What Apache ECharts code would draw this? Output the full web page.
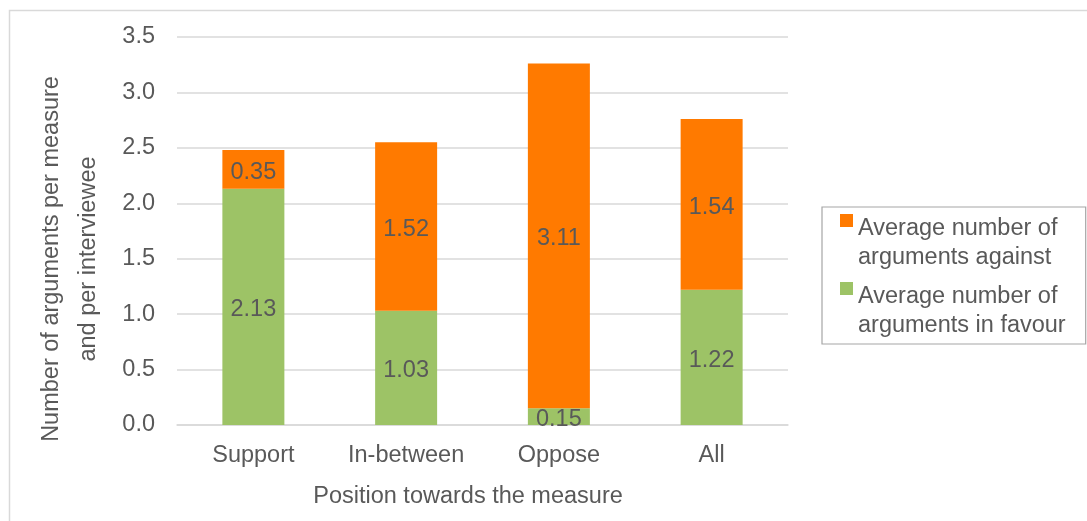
<!DOCTYPE html>
<html><head><meta charset="utf-8">
<script src="https://cdn.jsdelivr.net/npm/echarts@6/dist/echarts.min.js"></script>
<style>html,body{margin:0;padding:0;background:#fff}#c{width:1087px;height:521px}</style>
</head><body><div id="c"></div>
<script>
const categories = ['Support', 'In-between', 'Oppose', 'All'];
const inFavour = [2.13, 1.03, 0.15, 1.22];
const against = [0.35, 1.52, 3.11, 1.54];
const yTicks = { min: 0, max: 3.5, interval: 0.5 };
const seriesNames = ['Average number of\narguments against', 'Average number of\narguments in favour'];

const chart = echarts.init(document.getElementById('c'), null, { renderer: 'canvas' });
const txt = '#595959';
const font = 'Liberation Sans, Arial, sans-serif';
const fs = 23.5;
const legendIcon = 'path://M0,0L13,0L13,13L0,13Z M0,58L0.01,58L0,58Z';
chart.setOption({
  animation: false,
  textStyle: { fontFamily: font },
  graphic: [{ type: 'rect', shape: { x: 9.5, y: 10.5, width: 1200, height: 700 }, style: { fill: 'none', stroke: '#d9d9d9', lineWidth: 1.5 }, silent: true }],
  grid: { left: 177, right: 299, top: 37, bottom: 96, outerBoundsMode: 'none', containLabel: false },
  legend: {
    orient: 'vertical', left: 822, top: 207,
    data: [seriesNames[0], seriesNames[1]],
    icon: legendIcon, itemWidth: 13, itemHeight: 58, itemGap: 10,
    borderColor: '#a6a6a6', borderWidth: 1.2,
    padding: [7, 20, 4, 18],
    textStyle: { color: txt, fontSize: fs, lineHeight: 29, fontFamily: font }
  },
  xAxis: {
    type: 'category', data: categories,
    axisLine: { lineStyle: { color: '#d9d9d9', width: 1.5 } },
    axisTick: { show: false },
    axisLabel: { color: txt, fontSize: fs, margin: 19 },
    name: 'Position towards the measure', nameLocation: 'middle', nameGap: 60,
    nameTextStyle: { color: txt, fontSize: fs, padding: [0, 29, 0, 0] }
  },
  yAxis: {
    type: 'value', min: yTicks.min, max: yTicks.max, interval: yTicks.interval,
    axisLine: { show: false }, axisTick: { show: false },
    splitLine: { lineStyle: { color: '#d9d9d9', width: 1.5 } },
    axisLabel: { color: txt, fontSize: fs, margin: 22, formatter: v => v.toFixed(1) },
    name: 'Number of arguments per measure\nand per interviewee', nameLocation: 'middle', nameGap: 70,
    nameTextStyle: { color: txt, fontSize: fs, lineHeight: 37, padding: [0, 56, 0, 0] }
  },
  series: [
    { name: seriesNames[1], type: 'bar', stack: 's', data: inFavour, barWidth: 62,
      itemStyle: { color: '#9dc366' },
      label: { show: true, position: 'inside', offset: [0, 3], color: txt, fontSize: fs, formatter: p => p.value.toFixed(2) } },
    { name: seriesNames[0], type: 'bar', stack: 's', data: against, barWidth: 62,
      itemStyle: { color: '#ff7a00' },
      label: { show: true, position: 'inside', offset: [0, 3], color: txt, fontSize: fs, formatter: p => p.value.toFixed(2) } }
  ]
});
</script></body></html>
